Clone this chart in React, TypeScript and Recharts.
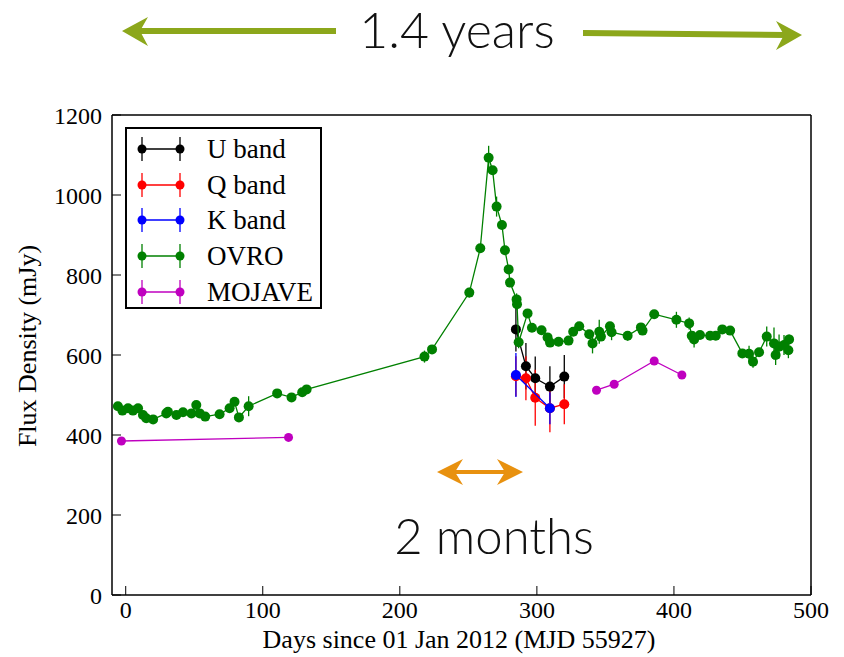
import React from "react";
import { ErrorBar, Scatter, ScatterChart, XAxis, YAxis } from "recharts";

// [day, flux (mJy), error (mJy)]
type Pt = [number, number, number];

const xTicks = [0, 100, 200, 300, 400, 500];
const yTicks = [0, 200, 400, 600, 800, 1000, 1200];

const uBand: Pt[] = [
  [284.7, 664, 55],
  [292, 572, 58],
  [298.8, 542, 54],
  [309.5, 521, 51],
  [320, 546, 54],
];

const qBand: Pt[] = [
  [284.7, 547, 50],
  [292, 542, 55],
  [298.8, 493, 70],
  [309.5, 467, 60],
  [320, 477, 50],
];

const kBand: Pt[] = [
  [284.7, 550, 55],
  [309.5, 467, 40],
];

const ovro: Pt[] = [
  [-5.7, 472, 8], [-2.4, 461, 8], [1.7, 467, 8], [5.3, 461, 8], [9, 467, 8],
  [12.6, 450, 8], [15, 442, 8], [20, 439, 8], [29.6, 454, 8], [30.8, 458, 8],
  [37, 450, 8], [41.8, 457, 8], [48, 454, 8], [51.5, 475, 10], [54, 454, 8],
  [58, 446, 10], [68.5, 452, 8], [75.8, 467, 8], [79.4, 483, 8], [82.6, 444, 10],
  [89.7, 472, 25], [110.5, 504, 8], [121, 494, 8], [128.8, 507, 8], [132, 514, 8],
  [218, 596, 15], [223.5, 614, 8], [250.7, 756, 12], [258.7, 867, 10],
  [264.8, 1093, 30], [267.7, 1062, 10], [270.6, 971, 25], [274.5, 925, 10],
  [276.7, 862, 10], [279.4, 814, 10], [280.4, 781, 10], [285.2, 739, 15],
  [285.5, 727, 15], [286.7, 632, 15], [293.2, 704, 10], [296.4, 668, 8],
  [303.4, 662, 8], [307.8, 644, 8], [309.6, 631, 8], [315.8, 633, 8],
  [323.1, 636, 8], [326.5, 658, 8], [330.9, 672, 8], [338.2, 652, 8],
  [340.6, 629, 25], [345.5, 658, 30], [346.7, 646, 10], [353.3, 672, 10],
  [354.5, 657, 20], [366.2, 648, 12], [375.9, 669, 10], [377.1, 661, 10],
  [385.6, 702, 8], [401.8, 688, 20], [411.1, 679, 15], [413, 648, 10],
  [414.7, 639, 20], [419, 650, 8], [426.4, 648, 8], [430.5, 648, 8],
  [435.3, 664, 8], [441, 661, 8], [449.9, 604, 10], [454.8, 603, 20],
  [457.7, 583, 15], [462.1, 607, 10], [467.7, 646, 25], [473, 629, 40],
  [474.2, 600, 25], [476.7, 621, 30], [480.3, 625, 25], [483.5, 612, 20],
  [484, 639, 12],
];

const mojaveEarly: Pt[] = [
  [-3.1, 385, 0],
  [118.8, 394, 0],
];

const mojaveLate: Pt[] = [
  [343.5, 512, 0],
  [356.4, 527, 0],
  [385.6, 585, 0],
  [405.8, 550, 0],
];

const legendItems = [
  { name: "U band", color: "#000000" },
  { name: "Q band", color: "#ff0000" },
  { name: "K band", color: "#0000ff" },
  { name: "OVRO", color: "#008000" },
  { name: "MOJAVE", color: "#bf00bf" },
];

const toRows = (pts: Pt[]) => pts.map(([day, flux, err]) => ({ day, flux, err }));

const dot = (r: number, color: string) => (props: any) =>
  <circle cx={props.cx} cy={props.cy} r={r} fill={color} stroke="none" />;

const serif = "'Liberation Serif', 'Times New Roman', serif";
const sans = "Lato, 'Open Sans', sans-serif";

const series = [
  { key: "u", data: uBand, color: "#000000", r: 5, err: true },
  { key: "q", data: qBand, color: "#ff0000", r: 5, err: true },
  { key: "k", data: kBand, color: "#0000ff", r: 5, err: true },
  { key: "ovro", data: ovro, color: "#008000", r: 5, err: true },
  { key: "mojA", data: mojaveEarly, color: "#bf00bf", r: 4.5, err: false },
  { key: "mojB", data: mojaveLate, color: "#bf00bf", r: 4.5, err: false },
];

const Legend: React.FC = () => (
  <div
    style={{
      position: "absolute",
      left: 125,
      top: 127,
      width: 193,
      height: 178,
      border: "2px solid #000",
      background: "#fff",
      fontFamily: serif,
      fontSize: 27,
    }}
  >
    {legendItems.map((item, i) => (
      <div
        key={item.name}
        style={{ position: "absolute", left: 0, top: 3 + i * 35.7, height: 34, width: 193 }}
      >
        <svg width={60} height={34} style={{ position: "absolute", left: 0, top: 0 }}>
          <line x1={15} y1={17} x2={53} y2={17} stroke={item.color} strokeWidth={1.3} />
          <line x1={15} y1={5} x2={15} y2={29} stroke={item.color} strokeWidth={1.3} />
          <line x1={53} y1={5} x2={53} y2={29} stroke={item.color} strokeWidth={1.3} />
          <circle cx={15} cy={17} r={4.5} fill={item.color} />
          <circle cx={53} cy={17} r={4.5} fill={item.color} />
        </svg>
        <span style={{ position: "absolute", left: 80, top: 0, lineHeight: "34px" }}>
          {item.name}
        </span>
      </div>
    ))}
  </div>
);

const Annotations: React.FC = () => (
  <svg
    width={844}
    height={657}
    style={{ position: "absolute", left: 0, top: 0, pointerEvents: "none" }}
  >
    {/* 1.4 years arrows */}
    <line x1={138} y1={31} x2={336} y2={31} stroke="#8ca71b" strokeWidth={6} />
    <polygon points="122,31 148,17 140,31 148,46" fill="#8ca71b" />
    <line x1={583} y1={33} x2={786} y2={35} stroke="#8ca71b" strokeWidth={6} />
    <polygon points="802,35 776,21 784,35 776,50" fill="#8ca71b" />
    <text
      x={457}
      y={48}
      textAnchor="middle"
      fontFamily={sans}
      fontWeight={300}
      fontSize={50}
      fill="#111"
    >
      1.4 years
    </text>

    {/* 2 months arrow */}
    <line x1={450} y1={472} x2={510} y2={472} stroke="#e8910f" strokeWidth={4} />
    <polygon points="437,472 463,459 455,472 463,485" fill="#e8910f" />
    <polygon points="523,472 497,459 505,472 497,485" fill="#e8910f" />
    <text
      x={494}
      y={554}
      textAnchor="middle"
      fontFamily={sans}
      fontWeight={300}
      fontSize={49}
      fill="#111"
    >
      2 months
    </text>

    {/* axis titles */}
    <text x={459} y={648} textAnchor="middle" fontFamily={serif} fontSize={26} fill="#000">
      Days since 01 Jan 2012 (MJD 55927)
    </text>
    <text
      x={27}
      y={346}
      textAnchor="middle"
      dominantBaseline="central"
      transform="rotate(-90 27 346)"
      fontFamily={serif}
      fontSize={26}
      fill="#000"
    >
      Flux Density (mJy)
    </text>
  </svg>
);

const App: React.FC = () => {
  const tickStyle = { fontSize: 24, fontFamily: serif, fill: "#000" };
  return (
    <div
      style={{
        position: "absolute",
        left: 0,
        top: 0,
        width: 844,
        height: 657,
        background: "#fff",
        fontFamily: serif,
      }}
    >
      <ScatterChart
        width={844}
        height={657}
        margin={{ top: 114, right: 32, bottom: 0, left: 0 }}
      >
        <XAxis
          type="number"
          dataKey="day"
          domain={[-10, 500]}
          ticks={xTicks}
          allowDataOverflow
          height={62}
          tickSize={-9}
          tickMargin={15}
          tick={tickStyle}
          stroke="#000"
          axisLine={{ stroke: "#000", strokeWidth: 1.5 }}
          tickLine={{ stroke: "#000" }}
        />
        <XAxis
          xAxisId="top"
          orientation="top"
          type="number"
          domain={[-10, 500]}
          ticks={xTicks}
          allowDataOverflow
          height={1}
          tickSize={-9}
          tick={false}
          axisLine={{ stroke: "#000", strokeWidth: 1.5 }}
          tickLine={{ stroke: "#000" }}
        />
        <YAxis
          type="number"
          dataKey="flux"
          domain={[0, 1200]}
          ticks={yTicks}
          allowDataOverflow
          width={112}
          tickSize={-9}
          tickMargin={19}
          tick={tickStyle}
          axisLine={{ stroke: "#000", strokeWidth: 1.5 }}
          tickLine={{ stroke: "#000" }}
        />
        <YAxis
          yAxisId="right"
          orientation="right"
          type="number"
          domain={[0, 1200]}
          ticks={yTicks}
          allowDataOverflow
          width={1}
          tickSize={-9}
          tick={false}
          axisLine={{ stroke: "#000", strokeWidth: 1.5 }}
          tickLine={{ stroke: "#000" }}
        />
        {series.map((s) => (
          <Scatter
            key={s.key}
            name={s.key}
            data={toRows(s.data)}
            fill={s.color}
            line={{ stroke: s.color, strokeWidth: 1.3 }}
            lineJointType="linear"
            shape={dot(s.r, s.color)}
            isAnimationActive={false}
          >
            {s.err && (
              <ErrorBar
                dataKey="err"
                direction="y"
                width={0}
                stroke={s.color}
                strokeWidth={1.3}
                isAnimationActive={false}
              />
            )}
          </Scatter>
        ))}
      </ScatterChart>
      <Legend />
      <Annotations />
    </div>
  );
};

export default App;
